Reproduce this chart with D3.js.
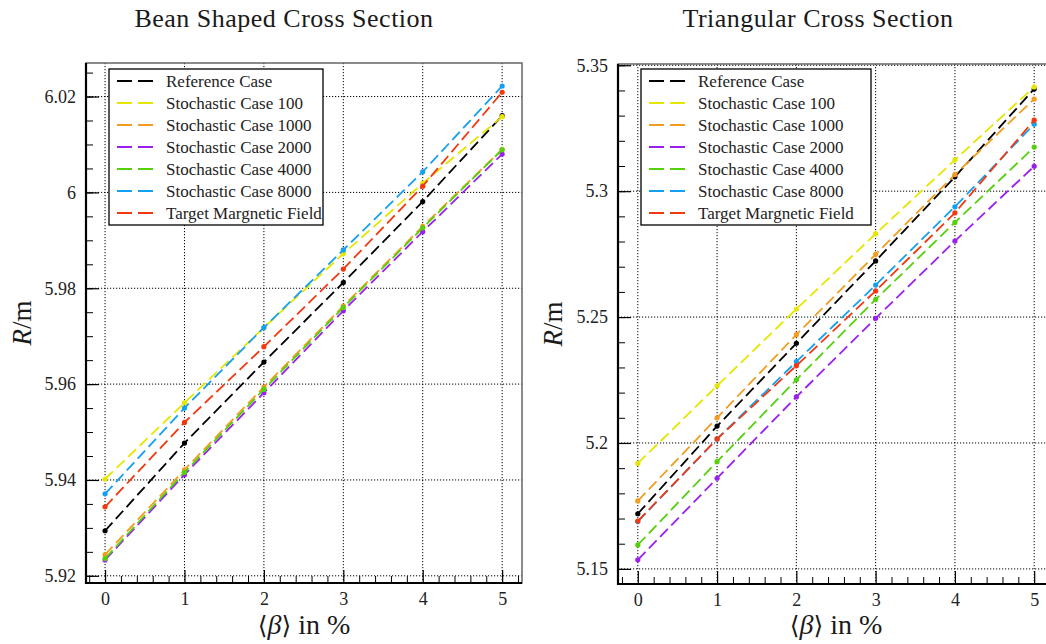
<!DOCTYPE html>
<html>
<head>
<meta charset="utf-8">
<script src="https://cdn.jsdelivr.net/npm/d3@7"></script>
<style>
  body { margin: 0; background: #fff; }
  svg { display: block; }
  svg text { font-family: "Liberation Serif", "DejaVu Serif", serif !important; }
  svg text .br { font-family: "DejaVu Serif", serif !important; }
  .grid line { stroke: #000; stroke-width: 1; stroke-dasharray: 1.2, 1.8; }
  .tick text { font-size: 18px; fill: #222; }
</style>
</head>
<body>
<svg id="chart" width="1046" height="644"></svg>
<script>
// x positions (mean beta in %)
const beta = [0, 1, 2, 3, 4, 5];

const seriesNames = [
  "Reference Case",
  "Stochastic Case 100",
  "Stochastic Case 1000",
  "Stochastic Case 2000",
  "Stochastic Case 4000",
  "Stochastic Case 8000",
  "Target Margnetic Field"
];
const seriesColors = ["#000000", "#e6e600", "#f29d1f", "#9b20ef", "#55d00c", "#14a0f0", "#f2380f"];

// bean shaped cross section, R in m
const beanRef    = [5.9294, 5.9477, 5.9646, 5.9812, 5.9981, 6.0160];
const beanS100   = [5.9402, 5.9561, 5.9718, 5.9872, 6.0019, 6.0158];
const beanS1000  = [5.9244, 5.9421, 5.9594, 5.9763, 5.9929, 6.0090];
const beanS2000  = [5.9233, 5.9411, 5.9582, 5.9753, 5.9918, 6.0080];
const beanS4000  = [5.9236, 5.9416, 5.9589, 5.9760, 5.9926, 6.0089];
const beanS8000  = [5.9371, 5.9550, 5.9718, 5.9880, 6.0043, 6.0222];
const beanTarget = [5.9344, 5.9520, 5.9678, 5.9840, 6.0013, 6.0209];

// triangular cross section, R in m
const triRef    = [5.1719, 5.2067, 5.2396, 5.2723, 5.3057, 5.3406];
const triS100   = [5.1919, 5.2227, 5.2532, 5.2831, 5.3124, 5.3414];
const triS1000  = [5.1770, 5.2100, 5.2430, 5.2749, 5.3066, 5.3366];
const triS2000  = [5.1536, 5.1860, 5.2183, 5.2495, 5.2802, 5.3099];
const triS4000  = [5.1595, 5.1926, 5.2251, 5.2570, 5.2876, 5.3175];
const triS8000  = [5.1688, 5.2016, 5.2323, 5.2627, 5.2938, 5.3266];
const triTarget = [5.1690, 5.2016, 5.2307, 5.2604, 5.2914, 5.3282];

// tick values
const xTicks = [0, 1, 2, 3, 4, 5];
const beanYTicks = [5.92, 5.94, 5.96, 5.98, 6.00, 6.02];
const triYTicks = [5.15, 5.20, 5.25, 5.30, 5.35];

const svg = d3.select("#chart");

function drawPanel(opts) {
  const { left, right, top, bottom, xDomain, yDomain, yTicks, yMinorStep, series, title, titleX, ylabelX, legendX } = opts;
  const x = d3.scaleLinear().domain(xDomain).range([left, right]);
  const y = d3.scaleLinear().domain(yDomain).range([bottom, top]);
  const g = svg.append("g");

  // grid
  const grid = g.append("g").attr("class", "grid");
  grid.selectAll("line.v").data(xTicks).join("line")
    .attr("x1", d => x(d)).attr("x2", d => x(d)).attr("y1", top).attr("y2", bottom);
  grid.selectAll("line.h").data(yTicks).join("line")
    .attr("y1", d => y(d)).attr("y2", d => y(d)).attr("x1", left).attr("x2", right);

  // minor ticks
  const xMinor = d3.range(-1, 27).map(i => i / 5).filter(v => v >= xDomain[0] && v <= xDomain[1] && Math.abs(v - Math.round(v)) > 1e-6);
  const yMinor = d3.range(Math.ceil(yDomain[0] / yMinorStep), Math.floor(yDomain[1] / yMinorStep) + 1)
    .map(i => +(i * yMinorStep).toFixed(4));

  g.append("g").attr("transform", `translate(0,${bottom})`)
    .call(d3.axisBottom(x).tickValues(xMinor).tickSize(-7).tickFormat(""))
    .call(a => a.select(".domain").remove())
    .selectAll("line").attr("stroke", "#000").attr("stroke-width", 1);
  g.append("g").attr("transform", `translate(${left},0)`)
    .call(d3.axisLeft(y).tickValues(yMinor).tickSize(-7).tickFormat(""))
    .call(a => a.select(".domain").remove())
    .selectAll("line").attr("stroke", "#000").attr("stroke-width", 1);

  // major ticks + labels
  const xa = g.append("g").attr("transform", `translate(0,${bottom})`)
    .call(d3.axisBottom(x).tickValues(xTicks).tickSize(-13).tickPadding(9).tickFormat(d3.format("d")))
    .call(a => a.select(".domain").remove());
  xa.selectAll("line").attr("stroke", "#000").attr("stroke-width", 1.2);

  const ya = g.append("g").attr("transform", `translate(${left},0)`)
    .call(d3.axisLeft(y).tickValues(yTicks).tickSize(-13).tickPadding(10).tickFormat(d => String(+d.toFixed(3))))
    .call(a => a.select(".domain").remove());
  ya.selectAll("line").attr("stroke", "#000").attr("stroke-width", 1.2);

  // frame
  g.append("rect").attr("x", left).attr("y", top).attr("width", right - left).attr("height", bottom - top)
    .attr("fill", "none").attr("stroke", "#666").attr("stroke-width", 1.5);
  g.append("path").attr("d", `M${left},${top}V${bottom}H${right}`)
    .attr("fill", "none").attr("stroke", "#000").attr("stroke-width", 2.2);

  // lines
  const line = d3.line().x((d, i) => x(beta[i])).y(d => y(d));
  series.forEach((vals, k) => {
    g.append("path").datum(vals).attr("d", line)
      .attr("fill", "none").attr("stroke", seriesColors[k]).attr("stroke-width", 1.8)
      .attr("stroke-dasharray", "11,5");
    g.selectAll(null).data(vals).join("circle")
      .attr("cx", (d, i) => x(beta[i])).attr("cy", d => y(d)).attr("r", 2.6)
      .attr("fill", seriesColors[k]);
  });

  // legend
  const lg = g.append("g").attr("transform", `translate(${legendX},69)`);
  lg.append("rect").attr("width", opts.legendW).attr("height", 156)
    .attr("fill", "#fff").attr("stroke", "#000").attr("stroke-width", 1.3);
  seriesNames.forEach((name, k) => {
    const row = lg.append("g").attr("transform", `translate(0,${12 + k * 22})`);
    row.append("line").attr("x1", 8).attr("x2", 45).attr("y1", 0).attr("y2", 0)
      .attr("stroke", seriesColors[k]).attr("stroke-width", 1.8).attr("stroke-dasharray", "15,6");
    row.append("text").attr("x", 57).attr("y", 5.5).attr("font-size", 17).attr("fill", "#222").text(name);
  });

  // title
  svg.append("text").attr("x", titleX).attr("y", 27).attr("text-anchor", "middle")
    .attr("font-size", 26).attr("letter-spacing", 0.5).attr("fill", "#1a1a1a").text(title);

  // x label
  const xl = svg.append("text").attr("x", (left + right) / 2).attr("y", 634).attr("text-anchor", "middle")
    .attr("font-size", 28).attr("fill", "#1a1a1a");
  xl.append("tspan").attr("class", "br").attr("font-size", 25).text("\u27E8");
  xl.append("tspan").attr("font-style", "italic").text("\u03B2");
  xl.append("tspan").attr("class", "br").attr("font-size", 25).text("\u27E9");
  xl.append("tspan").text(" in %");

  // y label
  const yl = svg.append("text").attr("transform", `translate(${ylabelX},${(top + bottom) / 2}) rotate(-90)`)
    .attr("text-anchor", "middle").attr("font-size", 27).attr("fill", "#1a1a1a");
  yl.append("tspan").attr("font-style", "italic").text("R");
  yl.append("tspan").text("/m");
}

drawPanel({
  left: 86, right: 522, top: 63, bottom: 583,
  xDomain: [-0.24, 5.25], yDomain: [5.9185, 6.027],
  yTicks: beanYTicks, yMinorStep: 0.005,
  series: [beanRef, beanS100, beanS1000, beanS2000, beanS4000, beanS8000, beanTarget],
  title: "Bean Shaped Cross Section", titleX: 284, ylabelX: 31,
  legendX: 109, legendW: 214
});

drawPanel({
  left: 618, right: 1054, top: 64, bottom: 584,
  xDomain: [-0.25, 5.25], yDomain: [5.144, 5.3505],
  yTicks: triYTicks, yMinorStep: 0.01,
  series: [triRef, triS100, triS1000, triS2000, triS4000, triS8000, triTarget],
  title: "Triangular Cross Section", titleX: 818, ylabelX: 562,
  legendX: 641, legendW: 230
});
</script>
</body>
</html>
